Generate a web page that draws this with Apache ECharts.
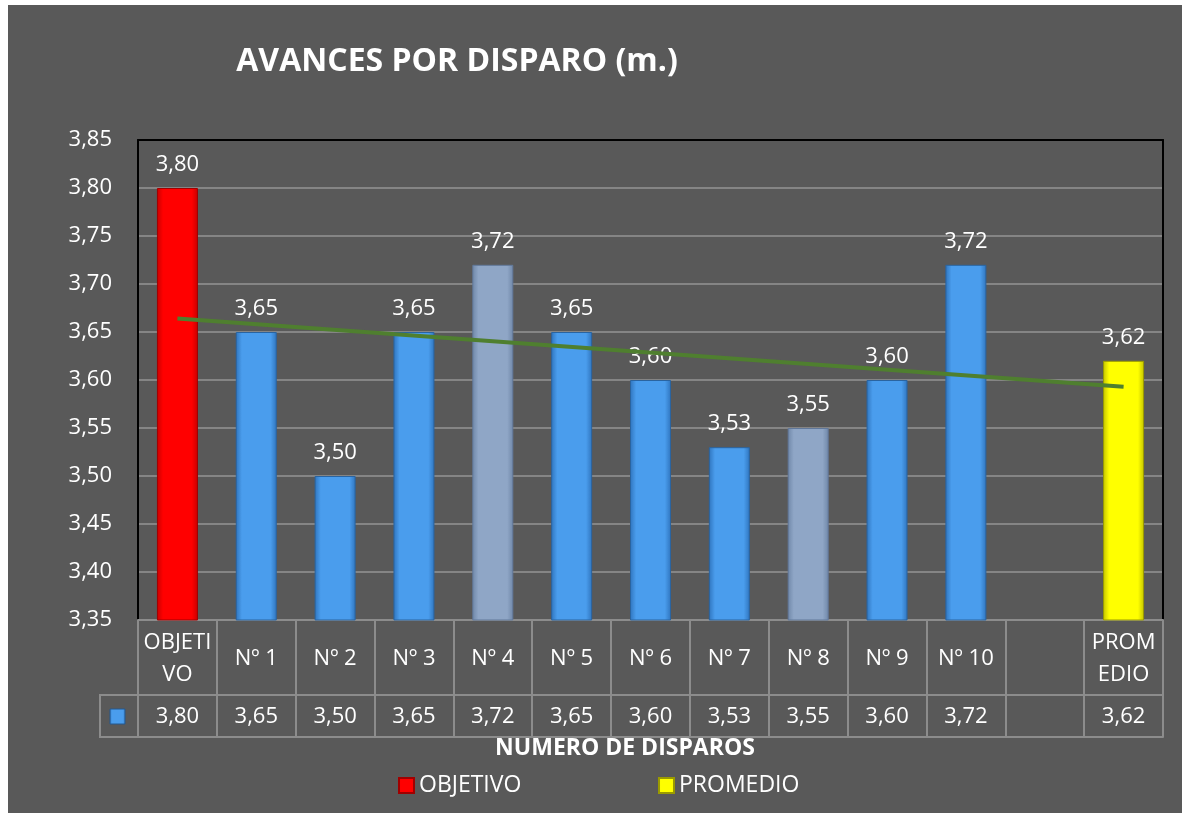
<!DOCTYPE html>
<html>
<head>
    <meta charset="utf-8">
    <title>Avances por disparo</title>
    <style>
        body { margin: 0; background: #ffffff; }
        #chart1 { position: absolute; left: 8px; top: 5px; width: 1174px; height: 808px; }
    </style>
</head>
<body>
<div id="chart1"></div>
<script src="https://cdn.jsdelivr.net/npm/echarts@6/dist/echarts.min.js"></script>
<script type="text/javascript">
    // datos del grafico
    const categorias = ['OBJETIVO', 'Nº 1', 'Nº 2', 'Nº 3', 'Nº 4', 'Nº 5', 'Nº 6', 'Nº 7', 'Nº 8', 'Nº 9', 'Nº 10', '', 'PROMEDIO'];
    const avances = [3.80, 3.65, 3.50, 3.65, 3.72, 3.65, 3.60, 3.53, 3.55, 3.60, 3.72, null, 3.62];
    const tendenciaInicio = 3.664;
    const tendenciaFin = 3.593;      // y en PROMEDIO
    const ejeY = { min: 3.35, max: 3.85, intervalo: 0.05 };
    const disparosGrises = ['Nº 4', 'Nº 8'];
    const etiquetasPartidas = { 'OBJETIVO': 'OBJETI\nVO', 'PROMEDIO': 'PROM\nEDIO' };

    const fuente = '"Open Sans", "Noto Sans", sans-serif';
    const coma = v => v.toFixed(2).replace('.', ',');
    const grad = (borde, centro) => ({
        type: 'linear', x: 0, y: 0, x2: 1, y2: 0,
        colorStops: [
            { offset: 0, color: borde },
            { offset: 0.15, color: centro },
            { offset: 0.85, color: centro },
            { offset: 1, color: borde }
        ]
    });
    const azul = { color: grad('#2f74bd', '#4a9ded'), borderColor: '#2a64a0', borderWidth: 1 };
    const gris = { color: grad('#6f87a8', '#8fa6c6'), borderColor: '#61789a', borderWidth: 1 };
    const rojo = { color: grad('#c80000', '#ff0000'), borderColor: '#a00000', borderWidth: 1 };
    const amarillo = { color: grad('#c4c400', '#ffff00'), borderColor: '#9a9a00', borderWidth: 1 };

    const ultimo = categorias.length - 1;
    const dataDisparos = avances.map((v, i) => {
        if (i === 0 || i === ultimo || v === null) return null;
        return { value: v, itemStyle: disparosGrises.includes(categorias[i]) ? gris : azul };
    });
    const dataObjetivo = avances.map((v, i) => i === 0 ? v : null);
    const dataPromedio = avances.map((v, i) => i === ultimo ? v : null);
    const dataTendencia = avances.map((v, i) => i === 0 ? tendenciaInicio : (i === ultimo ? tendenciaFin : null));

    const etiqueta = {
        show: true, position: 'top', distance: 12, color: '#ffffff',
        fontSize: 22, fontFamily: fuente, formatter: p => coma(p.value)
    };
    const lineaTabla = { color: '#8c8c8c', width: 2 };

    let myChart1 = echarts.init(document.getElementById('chart1'));
    myChart1.setOption({
        backgroundColor: '#595959',
        animation: false,
        title: [{
            text: 'AVANCES POR DISPARO (m.)',
            left: 444, top: 36, textAlign: 'center',
            textStyle: { color: '#ffffff', fontSize: 32, fontWeight: 'bold', fontFamily: fuente }
        }, {
            text: 'NUMERO DE DISPAROS',
            left: 612, top: 727, textAlign: 'center',
            textStyle: { color: '#ffffff', fontSize: 23, fontWeight: 'bold', fontFamily: fuente }
        }],
        legend: [{
            data: ['OBJETIVO'], left: 385, top: 764,
            itemWidth: 15, itemHeight: 15, icon: 'rect', itemGap: 6,
            textStyle: { color: '#ffffff', fontSize: 23, fontFamily: fuente }
        }, {
            data: ['PROMEDIO'], left: 645, top: 764,
            itemWidth: 15, itemHeight: 15, icon: 'rect',
            textStyle: { color: '#ffffff', fontSize: 23, fontFamily: fuente }
        }],
        grid: { left: 130, right: 19, top: 135, bottom: 193, containLabel: false },
        xAxis: [{
            type: 'category', data: categorias, position: 'bottom',
            axisLine: { show: true, lineStyle: lineaTabla },
            axisTick: { show: true, inside: false, length: 117, interval: 0, lineStyle: lineaTabla },
            axisLabel: {
                interval: 0, margin: 39, verticalAlign: 'middle', lineHeight: 32,
                color: '#ffffff', fontSize: 22, fontFamily: fuente,
                formatter: v => etiquetasPartidas[v] || v
            }
        }, {
            type: 'category', data: categorias, position: 'bottom', offset: 75,
            axisLine: { show: true, lineStyle: lineaTabla },
            axisTick: { show: false },
            axisLabel: {
                interval: 0, margin: 22, verticalAlign: 'middle',
                color: '#ffffff', fontSize: 22, fontFamily: fuente,
                formatter: (v, i) => avances[i] === null ? '' : coma(avances[i])
            }
        }, {
            type: 'category', data: categorias, position: 'bottom', offset: 117,
            axisLine: { show: true, lineStyle: lineaTabla },
            axisTick: { show: false }, axisLabel: { show: false }
        }, {
            type: 'category', data: categorias, position: 'top',
            axisLine: { show: true, lineStyle: { color: '#000000', width: 2 } },
            axisTick: { show: false }, axisLabel: { show: false }
        }],
        yAxis: [{
            type: 'value', min: ejeY.min, max: ejeY.max, interval: ejeY.intervalo,
            axisLine: { show: true, lineStyle: { color: '#000000', width: 2 } },
            axisTick: { show: false },
            axisLabel: { margin: 26, color: '#ffffff', fontSize: 22, fontFamily: fuente, formatter: v => coma(v) },
            splitLine: { show: true, lineStyle: { color: '#858585', width: 2 } }
        }, {
            type: 'value', min: ejeY.min, max: ejeY.max, interval: ejeY.intervalo, position: 'right',
            axisLine: { show: true, lineStyle: { color: '#000000', width: 2 } },
            axisTick: { show: false }, axisLabel: { show: false }, splitLine: { show: false }
        }],
        graphic: [{
            type: 'rect', shape: { x: 92, y: 690, width: 38, height: 42 },
            style: { fill: 'none', stroke: '#8c8c8c', lineWidth: 2 }
        }, {
            type: 'rect', shape: { x: 102, y: 704, width: 15, height: 15 },
            style: { fill: grad('#2f74bd', '#4a9ded'), stroke: '#25598f', lineWidth: 1 }
        }],
        series: [{
            name: 'DISPAROS', type: 'bar', data: dataDisparos,
            barWidth: 41, barGap: '-100%', label: etiqueta
        }, {
            name: 'OBJETIVO', type: 'bar', data: dataObjetivo,
            barWidth: 41, barGap: '-100%', label: etiqueta,
            itemStyle: rojo
        }, {
            name: 'PROMEDIO', type: 'bar', data: dataPromedio,
            barWidth: 41, barGap: '-100%', label: etiqueta,
            itemStyle: amarillo
        }, {
            name: 'Tendencia', type: 'line', data: dataTendencia, connectNulls: true,
            symbol: 'none', z: 5,
            lineStyle: { color: '#4f7f2f', width: 4 }
        }]
    });
</script>
</body>
</html>
